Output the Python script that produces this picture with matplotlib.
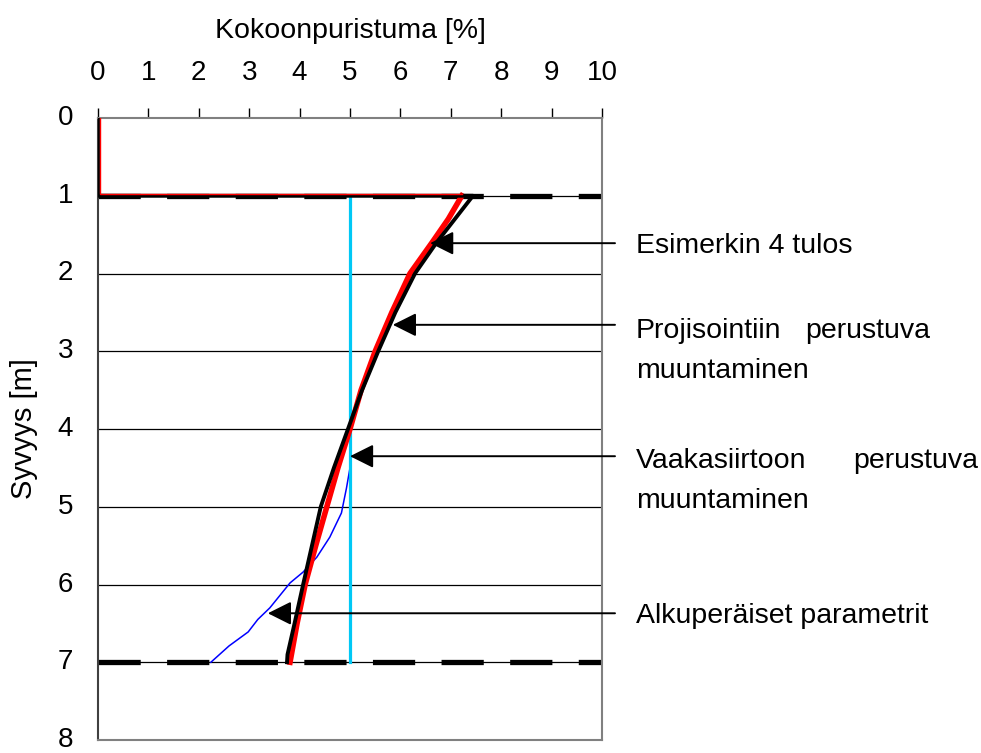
import matplotlib
matplotlib.use("Agg")
import matplotlib.pyplot as plt

plt.rcParams["font.family"] = ["Liberation Sans", "DejaVu Sans"]

# Depth [m] vs compression [%]
esim_depth = [0.0, 1.0, 1.0, 1.6, 2.0, 2.5, 3.0, 3.5, 4.0, 4.5, 5.0, 5.6, 6.0, 6.5, 6.9, 7.0]
esim_x     = [0.0, 0.0, 7.44, 6.72, 6.29, 5.90, 5.56, 5.24, 4.96, 4.68, 4.42, 4.21, 4.07, 3.90, 3.76, 3.75]

proj_box_depth = [0.0, 0.98, 0.98]
proj_box_x     = [0.03, 0.03, 7.22]
proj_depth = [1.0, 1.3, 1.6, 2.0, 2.5, 3.0, 3.5, 4.0, 4.5, 5.0, 5.5, 6.0, 6.5, 7.0]
proj_x     = [7.22, 6.95, 6.63, 6.19, 5.83, 5.50, 5.22, 5.00, 4.76, 4.54, 4.32, 4.11, 3.95, 3.81]

vaaka_depth = [1.0, 7.0]
vaaka_x     = [5.0, 5.0]

alku_depth = [1.0, 4.5, 4.76, 5.08, 5.39, 5.65, 5.84, 5.98, 6.30, 6.45, 6.61, 6.79, 7.0]
alku_x     = [5.0, 5.0, 4.93, 4.83, 4.60, 4.34, 4.07, 3.81, 3.41, 3.17, 2.98, 2.60, 2.24]

layer_bounds = [1.0, 7.0]

# (label lines, arrow depth, arrow tip x, first baseline depth)
notes = [
    ([("Esimerkin 4 tulos", None)], 1.61, 6.59, 1.736),
    ([("Projisointiin", "perustuva"), ("muuntaminen", None)], 2.66, 5.85, 2.83),
    ([("Vaakasiirtoon", "perustuva"), ("muuntaminen", None)], 4.35, 5.00, 4.50),
    ([("Alkuperäiset parametrit", None)], 6.37, 3.37, 6.50),
]
right_edges = [None, 930, 978, None]

fig = plt.figure(figsize=(9.81, 7.53), dpi=100)
ax = fig.add_axes([98 / 981, 1 - 740 / 753, 504 / 981, 622 / 753])
ax.set_xlim(0, 10)
ax.set_ylim(8, 0)

for d in range(1, 8):
    ax.axhline(d, color="black", lw=0.9, zorder=1)
for d in layer_bounds:
    ax.plot([0, 10], [d, d], color="black", lw=3.8, dashes=(8, 5),
            solid_capstyle="butt", dash_capstyle="butt", zorder=2)

ax.plot(alku_x, alku_depth, color="#0000ff", lw=1.1, zorder=3)
ax.plot(vaaka_x, vaaka_depth, color="#00c8f5", lw=2.3, zorder=4)
ax.plot(proj_x, proj_depth, color="#ff0000", lw=4.0, zorder=5)
ax.plot(esim_x, esim_depth, color="black", lw=2.8, zorder=6)
ax.plot(proj_box_x, proj_box_depth, color="#ff0000", lw=1.0, zorder=7)

ax.xaxis.tick_top()
ax.xaxis.set_label_position("top")
ax.set_xticks(range(0, 11))
ax.set_yticks(range(0, 9))
ax.tick_params(axis="x", direction="out", length=7, width=1, pad=16, labelsize=20)
ax.tick_params(axis="y", length=0, pad=18, labelsize=20)
for lbl in ax.get_yticklabels():
    lbl.set_verticalalignment("center")
ax.set_xlabel("Kokoonpuristuma [%]", fontsize=20.5, labelpad=16)
ax.set_ylabel("Syvyys [m]", fontsize=21, labelpad=14)
for s in ax.spines.values():
    s.set_color("#808080")
    s.set_linewidth(1.5)
ax.spines["left"].set_color("#404040")

px = lambda p: (p - 98) / 50.4
for (lines, ay, tipx, base), redge in zip(notes, right_edges):
    ax.annotate("", xy=(tipx, ay), xytext=(px(615), ay),
                arrowprops=dict(arrowstyle="-|>,head_length=0.6,head_width=0.3",
                                color="black", lw=1.4, mutation_scale=24,
                                shrinkA=0, shrinkB=0),
                annotation_clip=False, zorder=8)
    for i, (left, right) in enumerate(lines):
        y = base + i * 40 / 77.75
        ax.text(px(636), y, left, fontsize=20.5, va="baseline", ha="left", clip_on=False)
        if right:
            ax.text(px(redge), y, right, fontsize=20.5, va="baseline", ha="right", clip_on=False)

fig.savefig("out.png", dpi=100)
